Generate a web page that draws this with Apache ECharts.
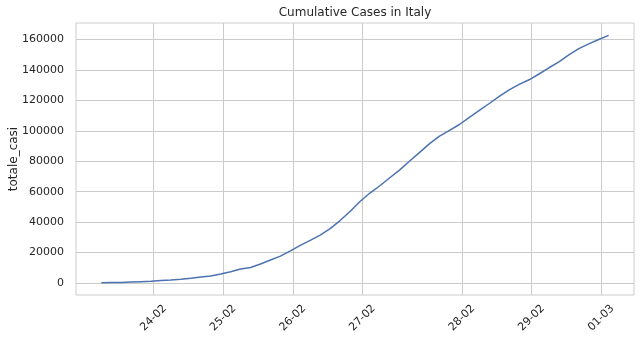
<!DOCTYPE html>
<html>
<head>
<meta charset="utf-8">
<script src="https://cdn.jsdelivr.net/npm/echarts@6/dist/echarts.min.js"></script>
<style>
html,body{margin:0;padding:0;background:#fff;}
#chart{width:640px;height:341px;}
</style>
</head>
<body>
<div id="chart"></div>
<script>
// one point per day (index 0 = 24-02)
const dates = [
  '2020-02-24','2020-02-25','2020-02-26','2020-02-27','2020-02-28','2020-02-29',
  '2020-03-01','2020-03-02','2020-03-03','2020-03-04','2020-03-05','2020-03-06','2020-03-07',
  '2020-03-08','2020-03-09','2020-03-10','2020-03-11','2020-03-12','2020-03-13','2020-03-14',
  '2020-03-15','2020-03-16','2020-03-17','2020-03-18','2020-03-19','2020-03-20','2020-03-21',
  '2020-03-22','2020-03-23','2020-03-24','2020-03-25','2020-03-26','2020-03-27','2020-03-28',
  '2020-03-29','2020-03-30','2020-03-31','2020-04-01','2020-04-02','2020-04-03','2020-04-04',
  '2020-04-05','2020-04-06','2020-04-07','2020-04-08','2020-04-09','2020-04-10','2020-04-11',
  '2020-04-12','2020-04-13','2020-04-14','2020-04-15'
];
const totaleCasi = [
  229, 322, 400, 650, 888, 1128,
  1694, 2036, 2502, 3089, 3858, 4636, 5883,
  7375, 9172, 10149, 12462, 15113, 17660, 21157,
  24747, 27980, 31506, 35713, 41035, 47021, 53578,
  59138, 63927, 69176, 74386, 80200, 85900, 91600,
  96500, 100300, 104200, 108900, 113500, 118000, 122700,
  127000, 130600, 133600, 137400, 141500, 145400, 150000,
  154100, 157200, 160100, 162800
];
// x tick positions (in day-index units) and their labels
const xTickPositions = [5.25, 12.25, 19.25, 26.25, 36.25, 43.25, 50.25];
const xTickLabels = ['24-02', '25-02', '26-02', '27-02', '28-02', '29-02', '01-03'];
const yTickValues = [0, 20000, 40000, 60000, 80000, 100000, 120000, 140000, 160000];

const n = totaleCasi.length;
const xMin = -0.05 * (n - 1), xMax = (n - 1) * 1.05;
const yLo = Math.min(...totaleCasi), yHi = Math.max(...totaleCasi);
const yMin = yLo - 0.05 * (yHi - yLo), yMax = yHi + 0.05 * (yHi - yLo);

const txt = '#262626';
const font = 'DejaVu Sans';
const chart = echarts.init(document.getElementById('chart'), null, {renderer: 'canvas'});
chart.setOption({
  animation: false,
  backgroundColor: '#ffffff',
  title: {
    text: 'Cumulative Cases in Italy',
    left: 355, top: 7, padding: 0, textAlign: 'center',
    textStyle: {fontFamily: font, fontSize: 12, fontWeight: 'normal', color: txt}
  },
  grid: {left: 76, right: 6, top: 23, bottom: 46, containLabel: false, outerBoundsMode: 'none',
    show: true, borderColor: '#cccccc', borderWidth: 1, backgroundColor: 'transparent'},
  xAxis: {
    type: 'value', min: xMin, max: xMax,
    axisLine: {show: false},
    axisTick: {show: false, customValues: xTickPositions},
    splitLine: {show: true, lineStyle: {color: '#cccccc', width: 1}},
    axisLabel: {
      customValues: xTickPositions,
      rotate: 45, align: 'center', verticalAlign: 'middle', margin: 23,
      fontFamily: font, fontSize: 11, color: txt,
      formatter: function (v) {
        const i = xTickPositions.findIndex(p => Math.abs(p - v) < 1e-6);
        return i >= 0 ? xTickLabels[i] : '';
      }
    }
  },
  yAxis: {
    type: 'value', min: yMin, max: yMax,
    name: 'totale_casi', nameLocation: 'middle', nameGap: 56, nameMoveOverlap: false,
    nameTextStyle: {fontFamily: font, fontSize: 12, color: txt},
    axisLine: {show: false},
    axisTick: {show: false, customValues: yTickValues},
    splitLine: {show: true, lineStyle: {color: '#cccccc', width: 1}},
    axisLabel: {customValues: yTickValues, margin: 12, fontFamily: font, fontSize: 11, color: txt,
      formatter: function (v) { return String(Math.round(v)); }}
  },
  series: [{
    type: 'line',
    data: totaleCasi.map((v, i) => [i, v]),
    showSymbol: false,
    lineStyle: {color: '#4c72b0', width: 1.5},
    itemStyle: {color: '#4c72b0'}
  }]
});
</script>
</body>
</html>
